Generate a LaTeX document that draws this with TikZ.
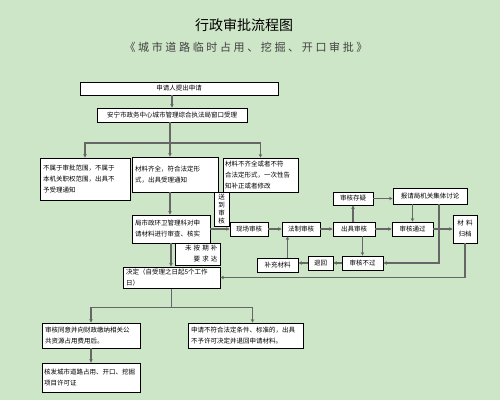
\documentclass[tikz,border=0pt]{standalone}
\usepackage{fontspec}
\setmainfont{Noto Sans CJK SC}
\usetikzlibrary{arrows.meta}
\definecolor{bggreen}{HTML}{CEE6C8}
\definecolor{wiregray}{HTML}{666666}

\begin{document}
\begin{tikzpicture}[x=1pt,y=-1pt,
    box/.style={shape=rectangle,draw=black,fill=white,line width=0.8pt,inner sep=2pt,
      font=\fontsize{6.5}{11}\selectfont},
    wire/.style={draw=wiregray,line width=1.1pt},
    conn/.style={wire,-{Stealth[length=3.5pt,width=3.5pt]}}]
    \useasboundingbox[fill=bggreen] (0,0) rectangle (500,400);

    % titles
    \node[font=\fontsize{14}{16}\selectfont] (title) at (244,25) {行政审批流程图};
    \node[font=\fontsize{11}{13}\selectfont\addfontfeature{LetterSpace=24},text=black!75] (subtitle) at (246,47)
      {《城市道路临时占用、挖掘、开口审批》};

    % boxes
    \node[box,minimum width=198pt,minimum height=13pt] (apply) at (179,88.5) {申请人提出申请};
    \node[box,minimum width=150pt,minimum height=14pt] (accept) at (172,115) {安宁市政务中心城市管理综合执法局窗口受理};
    \node[box,minimum width=90pt,minimum height=42pt,text width=84pt,align=left] (reject) at (85,179)
      {不属于审批范围，不属于\\本机关职权范围，出具不\\予受理通知};
    \node[box,minimum width=86pt,minimum height=35pt,text width=80pt,align=left] (ok) at (175,174.5)
      {材料齐全，符合法定形\\式，出具受理通知\\ };
    \node[box,minimum width=75pt,minimum height=34pt,text width=71pt,align=left] (fix) at (260.5,175)
      {材料不齐全或者不符\\合法定形式，一次性告\\知补正或者修改};
    \node[box,minimum width=15pt,minimum height=34pt,text width=8pt,align=center,inner sep=1pt,
      font=\fontsize{6.5}{8}\selectfont] (send) at (221.5,209) {送\\到\\审\\核};
    \node[box,minimum width=78pt,minimum height=28pt,text width=72pt,align=left] (review) at (171,229)
      {局市政环卫管理科对申\\请材料进行审查、核实};
    \node[box,minimum width=45pt,minimum height=22pt,text width=40pt,align=right] (overdue) at (197.5,254)
      {未\ 按\ 期\ 补\\要\ 求\ 达};
    \node[box,minimum width=97pt,minimum height=21pt,text width=91pt,align=left] (decide) at (171.5,277.5)
      {决定（自受理之日起5个工作\\日）};

    \node[box,minimum width=38pt,minimum height=14pt] (site) at (249,229) {现场审核};
    \node[box,minimum width=38pt,minimum height=14pt] (legal) at (301,229) {法制审核};
    \node[box,minimum width=42pt,minimum height=14pt] (issue) at (354,229) {出具审核};
    \node[box,minimum width=40pt,minimum height=13pt] (doubt) at (353,198.5) {审核存疑};
    \node[box,minimum width=74pt,minimum height=16pt] (discuss) at (430,196) {报请局机关集体讨论};
    \node[box,minimum width=41pt,minimum height=14pt] (pass) at (412.5,229) {审核通过};
    \node[box,minimum width=24pt,minimum height=28pt,text width=18pt,align=center] (archive) at (465,229)
      {材\ 料\\归档};
    \node[box,minimum width=41pt,minimum height=14pt] (fail) at (362.5,263) {审核不过};
    \node[box,minimum width=25pt,minimum height=14pt] (back) at (320.5,263) {退回};
    \node[box,minimum width=41pt,minimum height=14pt] (supp) at (277.5,265) {补充材料};

    \node[box,minimum width=98pt,minimum height=25pt,text width=92pt,align=left] (agree) at (91,335.5)
      {审核同意并向财政缴纳相关公\\共资源占用费用后。};
    \node[box,minimum width=98pt,minimum height=29pt,text width=94pt,align=left,inner sep=1.5pt] (permit) at (91,377.5)
      {核发城市道路占用、开口、挖掘\\项目许可证\\ };
    \node[box,minimum width=115pt,minimum height=25pt,text width=109pt,align=left] (deny) at (245.5,335.5)
      {申请不符合法定条件、标准的，出具\\不予许可决定并退回申请材料。};

    % connectors
    \coordinate (split) at (170,143);
    \draw[conn] (apply.south -| accept.north) -- (accept.north);
    \draw[conn] (accept.south -| split) -- (ok.north -| split);
    \draw[conn] (split) -| (reject.north);
    \draw[conn] (split) -| (fix.north);
    \draw[conn] (ok.south -| split) -- (review.north -| split);
    \path[conn] (review) edge (site);
    \draw[conn] (review.south) -- (review.south |- decide.north);

    \path[conn] (site) edge (legal);
    \path[conn] (legal) edge (issue);
    \path[conn] (issue) edge (pass);
    \path[conn] (pass) edge (archive);
    \draw[conn] (issue.north -| doubt) -- (doubt.south);
    \draw[conn] (doubt.east) -- (doubt.east -| discuss.west);
    \draw[conn] (discuss.south -| pass) -- (pass.north);
    \draw[conn] ([xshift=9pt]discuss.south) |- (fail.east);
    \draw[conn] (issue.south -| fail) -- (fail.north);
    \path[conn] (fail) edge (back);
    \draw[conn] (back.west) -- (back.west -| supp.east);
    \draw[conn] ([xshift=10pt]supp.north) -- ([xshift=10pt]supp.north |- legal.south);
    \draw[conn] (archive.south) |- (decide.east);

    \draw[wire] (decide.south) -- ++(0,19) coordinate (fork);
    \draw[conn] (fork) -| (agree.north);
    \draw[conn] (fork) -| ([xshift=7pt]deny.north);
    \path[conn] (agree) edge (permit);
\end{tikzpicture}
\end{document}
